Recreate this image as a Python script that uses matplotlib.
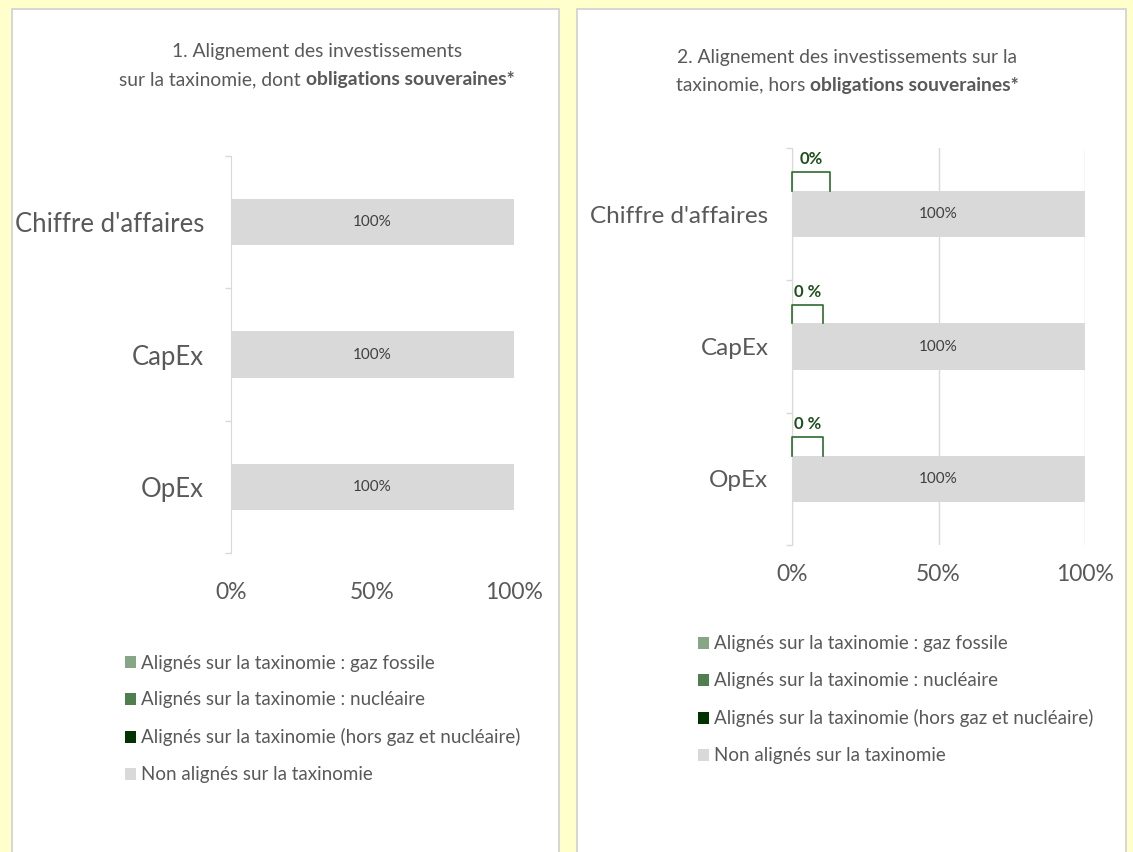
import matplotlib.pyplot as plt
from matplotlib.patches import Rectangle

plt.rcParams['font.family'] = ['Lato', 'DejaVu Sans']

# data
categories = ["Chiffre d'affaires", "CapEx", "OpEx"]
series_names = [
    "Alignés sur la taxinomie : gaz fossile",
    "Alignés sur la taxinomie : nucléaire",
    "Alignés sur la taxinomie (hors gaz et nucléaire)",
    "Non alignés sur la taxinomie",
]
series_colors = ["#86A686", "#4F7F4F", "#003300", "#D9D9D9"]

# chart 1 : with sovereign bonds
gas_1 = [0, 0, 0]
nuclear_1 = [0, 0, 0]
aligned_1 = [0, 0, 0]
not_aligned_1 = [100, 100, 100]

# chart 2 : without sovereign bonds
gas_2 = [0, 0, 0]
nuclear_2 = [0, 0, 0]
aligned_2 = [0, 0, 0]
not_aligned_2 = [100, 100, 100]
callout_labels_2 = ["0%", "0 %", "0 %"]

xticks = [0, 50, 100]
xtick_labels = ["0%", "50%", "100%"]

TXT = "#595959"
W, H = 1133, 852
TITLE_SIZE = 13.9

fig = plt.figure(figsize=(W / 100, H / 100), dpi=100)
fig.patch.set_facecolor("#FFFFCC")


def px_box(x0, y0, x1, y1):
    # pixel box (top-left origin) -> figure fraction [left, bottom, width, height]
    return [x0 / W, 1 - y1 / H, (x1 - x0) / W, (y1 - y0) / H]


# white panels
for x0, x1 in [(12, 559), (577, 1126)]:
    l, b, w, h = px_box(x0, 9, x1, H + 20)
    fig.patches.append(Rectangle((l, b), w, h, transform=fig.transFigure,
                                 facecolor="white", edgecolor="#D0D0D0", lw=1.2, zorder=-5))


def mixed_title(xc, yc, normal, bold):
    # one centred line: normal part followed by a bold part
    r = fig.canvas.get_renderer()
    t1 = fig.text(0, yc, normal, ha="left", va="center", fontsize=TITLE_SIZE, color=TXT)
    t2 = fig.text(0, yc, bold, ha="left", va="center", fontsize=TITLE_SIZE, color=TXT,
                  fontweight="bold")
    w1 = t1.get_window_extent(r).width / W
    w2 = t2.get_window_extent(r).width / W
    x0 = xc - (w1 + w2) / 2
    t1.set_x(x0)
    t2.set_x(x0 + w1)


def draw_chart(box, series, grid, ylab_size, ylab_pad, xlab_pad):
    ax = fig.add_axes(px_box(*box))
    ax.set_zorder(2)
    ax.set_facecolor("none")
    y = list(range(len(categories)))
    left = [0] * len(categories)
    bars = []
    for vals, name, col in zip(series, series_names, series_colors):
        b = ax.barh(y, vals, left=left, height=0.35, color=col, label=name, zorder=2)
        bars.append(b)
        left = [a + v for a, v in zip(left, vals)]
    # labels on the non aligned bars
    for rect, v in zip(bars[-1], series[-1]):
        ax.text(rect.get_x() + rect.get_width() / 2, rect.get_y() + rect.get_height() / 2,
                f"{v}%", ha="center", va="center", fontsize=11, color="#404040", zorder=3)
    ax.set_xlim(0, 100)
    ax.set_ylim(len(categories) - 0.5, -0.5)
    ax.set_yticks(y)
    ax.set_yticklabels(categories, fontsize=ylab_size, color=TXT)
    ax.set_yticks([i - 0.5 for i in range(len(categories) + 1)], minor=True)
    ax.tick_params(axis="y", which="major", length=0, pad=ylab_pad)
    ax.tick_params(axis="y", which="minor", length=4, color="#D9D9D9", width=1)
    ax.set_xticks(xticks)
    ax.set_xticklabels(xtick_labels, fontsize=16.5, color=TXT)
    ax.tick_params(axis="x", length=0, pad=xlab_pad)
    for s in ["top", "right", "bottom"]:
        ax.spines[s].set_visible(False)
    ax.spines["left"].set_color("#D9D9D9")
    if grid:
        ax.xaxis.grid(True, color="#D9D9D9", lw=1, zorder=0)
        ax.set_axisbelow(True)
    return ax, bars


legend_kw = dict(frameon=False, fontsize=13.5, labelcolor=TXT, handlelength=0.6,
                 handleheight=0.6, handletextpad=0.3, labelspacing=1.06, borderaxespad=0,
                 loc="upper left")

# chart 1
ax1, bars1 = draw_chart((231, 156, 514, 553),
                        [gas_1, nuclear_1, aligned_1, not_aligned_1],
                        grid=False, ylab_size=18.5, ylab_pad=19.5, xlab_pad=21)
fig.text(317 / W, 1 - 52 / H, "1. Alignement des investissements",
         ha="center", va="center", fontsize=TITLE_SIZE, color=TXT)
mixed_title(317 / W, 1 - 80 / H, "sur la taxinomie, dont ", "obligations souveraines*")
ax1.legend(bbox_to_anchor=(117 / W, 1 - 647 / H), bbox_transform=fig.transFigure, **legend_kw)

# chart 2
ax2, bars2 = draw_chart((792, 148, 1085, 545),
                        [gas_2, nuclear_2, aligned_2, not_aligned_2],
                        grid=True, ylab_size=17.5, ylab_pad=17, xlab_pad=14)
fig.text(847 / W, 1 - 57 / H, "2. Alignement des investissements sur la",
         ha="center", va="center", fontsize=TITLE_SIZE, color=TXT)
mixed_title(847 / W, 1 - 85 / H, "taxinomie, hors ", "obligations souveraines*")
ax2.legend(bbox_to_anchor=(690 / W, 1 - 628 / H), bbox_transform=fig.transFigure, **legend_kw)

# callouts for the aligned share (right chart)
widths = [13, 10.5, 10.5]
aligned_tot = [g + n + a for g, n, a in zip(gas_2, nuclear_2, aligned_2)]
for i, (val, lab, w) in enumerate(zip(aligned_tot, callout_labels_2, widths)):
    top = i - 0.35 / 2
    ax2.plot([val, val, val + w, val + w], [top, top - 0.14, top - 0.14, top],
             color="#2E6B2E", lw=1.2, clip_on=False, zorder=4)
    ax2.text(val + w / 2, top - 0.18, lab, ha="center", va="bottom",
             fontsize=12, fontweight="bold", color="#1F4F1F")

fig.savefig("out.png", dpi=100, facecolor=fig.get_facecolor())
